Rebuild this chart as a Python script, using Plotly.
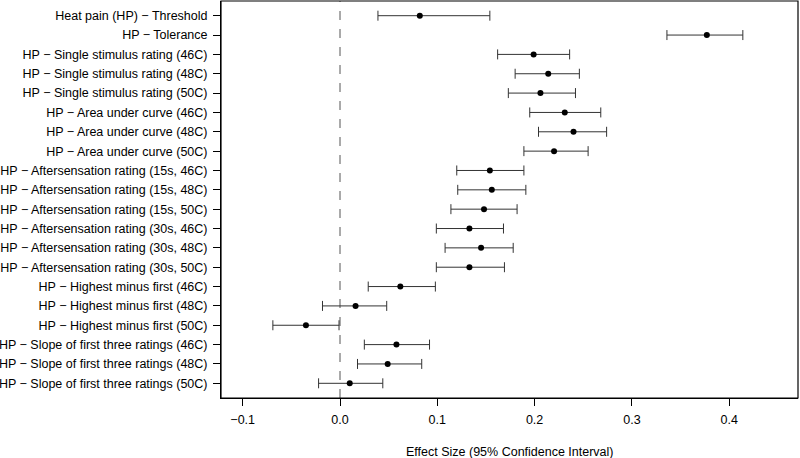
import plotly.graph_objects as go

labels = [
    "Heat pain (HP) \u2212 Threshold",
    "HP \u2212 Tolerance",
    "HP \u2212 Single stimulus rating (46C)",
    "HP \u2212 Single stimulus rating (48C)",
    "HP \u2212 Single stimulus rating (50C)",
    "HP \u2212 Area under curve (46C)",
    "HP \u2212 Area under curve (48C)",
    "HP \u2212 Area under curve (50C)",
    "HP \u2212 Aftersensation rating (15s, 46C)",
    "HP \u2212 Aftersensation rating (15s, 48C)",
    "HP \u2212 Aftersensation rating (15s, 50C)",
    "HP \u2212 Aftersensation rating (30s, 46C)",
    "HP \u2212 Aftersensation rating (30s, 48C)",
    "HP \u2212 Aftersensation rating (30s, 50C)",
    "HP \u2212 Highest minus first (46C)",
    "HP \u2212 Highest minus first (48C)",
    "HP \u2212 Highest minus first (50C)",
    "HP \u2212 Slope of first three ratings (46C)",
    "HP \u2212 Slope of first three ratings (48C)",
    "HP \u2212 Slope of first three ratings (50C)",
]
estimate = [0.082, 0.377, 0.199, 0.214, 0.206, 0.231, 0.240, 0.220, 0.154, 0.156,
            0.148, 0.133, 0.145, 0.133, 0.062, 0.016, -0.035, 0.058, 0.049, 0.010]
lower = [0.039, 0.336, 0.162, 0.180, 0.173, 0.195, 0.204, 0.189, 0.120, 0.121,
         0.114, 0.099, 0.108, 0.099, 0.029, -0.018, -0.069, 0.025, 0.018, -0.022]
upper = [0.154, 0.414, 0.236, 0.246, 0.242, 0.268, 0.274, 0.255, 0.189, 0.191,
         0.182, 0.168, 0.178, 0.169, 0.098, 0.048, -0.001, 0.092, 0.084, 0.044]
x_ticks = [-0.1, 0.0, 0.1, 0.2, 0.3, 0.4]
x_title = "Effect Size (95% Confidence Interval)"

rows = list(range(1, len(labels) + 1))
err_plus = [u - e for u, e in zip(upper, estimate)]
err_minus = [e - l for e, l in zip(estimate, lower)]

fig = go.Figure()
fig.add_trace(go.Scatter(
    x=estimate, y=rows, mode="markers",
    marker=dict(color="black", size=6),
    error_x=dict(type="data", symmetric=False, array=err_plus, arrayminus=err_minus,
                 color="#333333", thickness=1, width=5),
    showlegend=False, hoverinfo="x+y",
))
fig.add_shape(type="line", x0=0, x1=0, y0=0, y1=1, xref="x", yref="paper",
              line=dict(color="#555555", width=1, dash="dash"), layer="below")
fig.add_shape(type="rect", x0=0, x1=1, y0=0, y1=1, xref="paper", yref="paper",
              line=dict(color="black", width=1.2), fillcolor="rgba(0,0,0,0)", layer="above")
fig.add_annotation(text=x_title, x=0.5, y=0, xref="paper", yref="paper",
                   yshift=-54, showarrow=False, font=dict(size=12.5),
                   xanchor="center", yanchor="middle")

fig.update_layout(
    width=800, height=458,
    margin=dict(l=221, r=2, t=1, b=60, autoexpand=False),
    paper_bgcolor="white", plot_bgcolor="white",
    font=dict(family="Liberation Sans, Arial, sans-serif", size=12.5, color="black"),
    xaxis=dict(range=[-0.1223, 0.4707], tickvals=x_ticks, tickformat=".1f",
               showgrid=False, zeroline=False, showline=True,
               linecolor="black", linewidth=1, ticks="outside", ticklen=7,
               tickcolor="black", tickfont=dict(size=12.5), automargin=False,
               ticklabelstandoff=3),
    yaxis=dict(range=[20.76, 0.24], tickvals=rows, ticktext=labels,
               showgrid=False, zeroline=False, showline=True,
               linecolor="black", linewidth=1, ticks="outside", ticklen=7,
               tickcolor="black", tickfont=dict(size=12.5), automargin=False,
               ticklabelstandoff=3),
)

fig.write_html("out.html", config={"displayModeBar": False},
               post_script="document.body.style.margin='0';document.body.style.overflow='hidden';")
